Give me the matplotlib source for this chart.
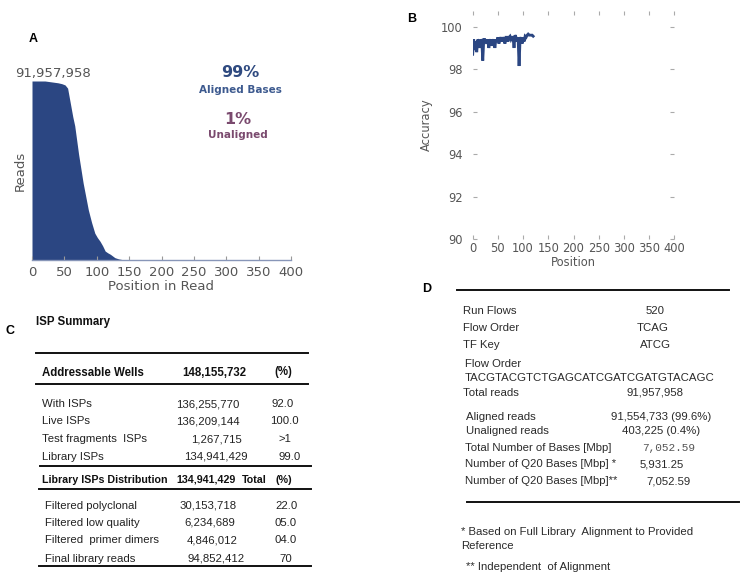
import matplotlib
matplotlib.use("Agg")
import matplotlib.pyplot as plt
from matplotlib.lines import Line2D

W, H = 750, 586

# ---------------- data ----------------
# Panel A: read length histogram (reads remaining at each position)
a_pos = [0, 20, 30, 40, 46, 51, 55, 59, 63, 66, 72, 79, 87, 92, 97, 101, 105,
         109, 113, 117, 121, 128, 134, 140, 150, 400]
a_reads = [91957958, 91957958, 91500000, 91040000, 90580000, 89940000, 88280000,
           80920000, 73570000, 68970000, 54260000, 39540000, 25750000, 19310000,
           13790000, 11490000, 9660000, 7360000, 4600000, 3680000, 2940000,
           1200000, 550000, 180000, 0, 0]
a_total_label = "91,957,958"
a_aligned = "99%"
a_unaligned = "1%"
a_xticks = [0, 50, 100, 150, 200, 250, 300, 350, 400]

# Panel B: per-position accuracy
b_pos = list(range(0, 122, 2))
b_acc = [98.7, 99.4, 98.9, 99.3, 98.8, 99.4, 99.3, 99.0, 99.4, 99.3, 98.4,
         99.4, 99.4, 99.3, 99.2, 99.4, 99.0, 99.3, 99.4, 99.1, 99.3, 99.4,
         99.0, 99.4, 99.3, 99.5, 99.2, 99.4, 99.5, 99.3, 99.5, 99.4, 99.2,
         99.5, 99.5, 99.3, 99.5, 99.55, 99.4, 99.5, 99.5, 99.0, 99.6, 99.5,
         99.3, 99.5, 98.15, 99.4, 99.5, 99.2, 99.5, 99.3, 99.55, 99.5, 99.6,
         99.65, 99.6, 99.6, 99.6, 99.6, 99.55]
b_xticks = [0, 50, 100, 150, 200, 250, 300, 350, 400]
b_yticks = [90, 92, 94, 96, 98, 100]

# Panel C: ISP summary table
c_header = ["Addressable Wells", "148,155,732", "(%)"]
c_rows1 = [["With ISPs", "136,255,770", "92.0"],
           ["Live ISPs", "136,209,144", "100.0"],
           ["Test fragments  ISPs", "1,267,715", ">1"],
           ["Library ISPs", "134,941,429", "99.0"]]
c_header2 = ["Library ISPs Distribution", "134,941,429", "Total", "(%)"]
c_rows2 = [["Filtered polyclonal", "30,153,718", "22.0"],
           ["Filtered low quality", "6,234,689", "05.0"],
           ["Filtered  primer dimers", "4,846,012", "04.0"],
           ["Final library reads", "94,852,412", "70"]]

# Panel D: run summary
d_rows1 = [["Run Flows", "520"], ["Flow Order", "TCAG"], ["TF Key", "ATCG"]]
d_flow_label = "Flow Order"
d_flow_seq = "TACGTACGTCTGAGCATCGATCGATGTACAGC"
d_total = ["Total reads", "91,957,958"]
d_rows2 = [["Aligned reads", "91,554,733 (99.6%)"],
           ["Unaligned reads", "403,225 (0.4%)"]]
d_rows3 = [["Total Number of Bases [Mbp]", "7,052.59"],
           ["Number of Q20 Bases [Mbp] *", "5,931.25"],
           ["Number of Q20 Bases [Mbp]**", "7,052.59"]]
d_notes = ["* Based on Full Library  Alignment to Provided", "Reference",
           "** Independent  of Alignment"]

# ---------------- figure ----------------
fig = plt.figure(figsize=(W / 100, H / 100), dpi=100)
fig.patch.set_facecolor("white")


def fx(x):
    return x / W


def fy(y):
    return 1 - y / H


def ftext(x, y, s, **kw):
    kw.setdefault("va", "center_baseline")
    fig.text(fx(x), fy(y), s, **kw)


def hline(x0, x1, y, lw=1.4, color="#111111"):
    fig.add_artist(Line2D([fx(x0), fx(x1)], [fy(y), fy(y)], lw=lw,
                          color=color, transform=fig.transFigure))


gray = "#555555"
navy = "#2b4682"

# ---- Panel A ----
axA = fig.add_axes([fx(32), fy(260), fx(291) - fx(32), fy(81) - fy(260)])
axA.fill_between(a_pos, a_reads, 0, color=navy, lw=0)
axA.set_xlim(0, 400)
axA.set_ylim(0, max(a_reads))
for s in ["top", "right", "left"]:
    axA.spines[s].set_visible(False)
axA.spines["bottom"].set_color("#8896b8")
axA.spines["bottom"].set_linewidth(1.0)
axA.set_yticks([])
axA.set_xticks(a_xticks)
axA.tick_params(axis="x", direction="in", length=3, color="#999999",
                labelcolor=gray, labelsize=9.5, pad=4)
axA.set_xlabel("Position in Read", color=gray, fontsize=9.5, labelpad=1)
axA.set_ylabel("Reads", color=gray, fontsize=9.5, labelpad=4)
ftext(53, 72, a_total_label, ha="center", color=gray, fontsize=9.5)
ftext(240, 71, a_aligned, ha="center", color="#2f4a80", fontsize=11.5,
      fontweight="bold")
ftext(240, 89, "Aligned Bases", ha="center", color="#3d5a8f", fontsize=7.5,
      fontweight="bold")
ftext(238, 118, a_unaligned, ha="center", color="#7a4a6e", fontsize=11.5,
      fontweight="bold")
ftext(238, 134, "Unaligned", ha="center", color="#7a4a6e", fontsize=7.5,
      fontweight="bold")
ftext(33, 37, "A", ha="center", fontsize=9, fontweight="bold",
      family="Liberation Sans")

# ---- Panel B ----
axB = fig.add_axes([fx(472.7), fy(239.3), fx(674.3) - fx(472.7),
                    fy(10.7) - fy(239.3)])
axB.plot(b_pos, b_acc, color=navy, lw=2.0, solid_joinstyle="miter")
axB.set_xlim(0, 400)
axB.set_ylim(90, 100.75)
for s in axB.spines.values():
    s.set_visible(False)
axB.set_xticks(b_xticks)
axB.set_yticks(b_yticks)
axB.tick_params(direction="in", length=3, color="#aaaaaa", labelcolor=gray,
                labelsize=8.3, top=True, right=True, pad=2)
axB.tick_params(axis="y", pad=7)
axB.set_xlabel("Position", color=gray, fontsize=8.3, labelpad=1)
axB.set_ylabel("Accuracy", color=gray, fontsize=8.3, labelpad=6)
ftext(412, 18, "B", ha="center", fontsize=9, fontweight="bold",
      family="Liberation Sans")

# ---- Panel C ----
tf = dict(family="Liberation Sans", color="#222222", fontsize=8.2)
tfb = dict(family="Liberation Sans", color="#111111", fontsize=8.3,
           fontweight="bold")
tfb2 = dict(tfb, fontsize=7.7)
ftext(10, 330, "C", ha="center", fontsize=9, fontweight="bold",
      family="Liberation Sans")
ftext(36, 321, "ISP Summary", ha="left", **tfb)
hline(36, 308, 352.7)
ftext(42, 371, c_header[0], ha="left", **tfb)
ftext(214, 371, c_header[1], ha="center", **tfb)
ftext(283, 371, c_header[2], ha="center", **tfb)
hline(36, 308, 384.3)
c_y1 = [403.3, 420, 438.3, 455.7]
c_vx1 = [207.5, 208, 216, 216]
c_px1 = [283, 284, 284.7, 289.7]
for (lab, val, pct), y, vx, px in zip(c_rows1, c_y1, c_vx1, c_px1):
    ftext(42, y, lab, ha="left", **tf)
    ftext(vx, y, val, ha="center", **tf)
    ftext(px, y, pct, ha="center", **tf)
hline(40, 311, 466)
ftext(42, 479, c_header2[0], ha="left", **tfb2)
ftext(206, 479, c_header2[1], ha="center", **tfb2)
ftext(254, 479, c_header2[2], ha="center", **tfb2)
ftext(284, 479, c_header2[3], ha="center", **tfb2)
hline(39, 311, 488.7)
c_y2 = [505, 521.7, 539.3, 557.7]
c_vx2 = [208, 210, 211.7, 216]
for (lab, val, pct), y, vx in zip(c_rows2, c_y2, c_vx2):
    ftext(45, y, lab, ha="left", **tf)
    ftext(vx, y, val, ha="center", **tf)
    ftext(286, y, pct, ha="center", **tf)
hline(39, 311, 566)

# ---- Panel D ----
df = dict(family="Liberation Sans", color="#2a2a2a", fontsize=8.2)
mf = dict(family="Liberation Mono", color="#555555", fontsize=8.0)
ftext(427, 288, "D", ha="center", fontsize=9, fontweight="bold",
      family="Liberation Sans")
hline(457, 729, 290)
d_y1 = [310, 326.7, 344.3]
d_vx1 = [655, 652.5, 655.8]
for (lab, val), y, vx in zip(d_rows1, d_y1, d_vx1):
    ftext(463, y, lab, ha="left", **df)
    ftext(vx, y, val, ha="center", **df)
ftext(465, 362.7, d_flow_label, ha="left", **df)
ftext(465, 376.7, d_flow_seq, ha="left", **df)
ftext(463, 391.7, d_total[0], ha="left", **df)
ftext(654.7, 391.7, d_total[1], ha="center", **df)
for (lab, val), y in zip(d_rows2, [416, 430]):
    ftext(466, y, lab, ha="left", **df)
    ftext(660.8, y, val, ha="center", **df)
d_y3 = [446.7, 463.3, 480]
d_vx3 = [668.3, 661.3, 669]
for i, ((lab, val), y, vx) in enumerate(zip(d_rows3, d_y3, d_vx3)):
    ftext(465, y, lab, ha="left", **df)
    if i == 0:
        ftext(vx, y, val, ha="center", **mf)
    else:
        ftext(vx, y, val, ha="center", **df)
hline(467, 739, 501.7)
ftext(460.7, 530.7, d_notes[0], ha="left", **df)
ftext(460.7, 545, d_notes[1], ha="left", **df)
ftext(466, 566, d_notes[2], ha="left", **df)

fig.savefig("out.png", dpi=100)
